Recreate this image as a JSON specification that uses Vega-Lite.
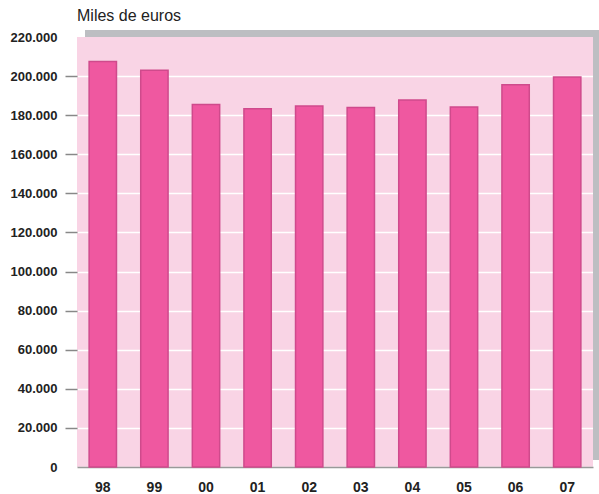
{
  "$schema": "https://vega.github.io/schema/vega-lite/v6.json",
  "width": 516,
  "height": 430,
  "autosize": {"type": "none"},
  "padding": {"left": 77, "top": 37, "right": 6, "bottom": 27},
  "background": "white",
  "config": {
    "view": {"fill": "#f9d4e5", "stroke": null},
    "font": "Liberation Sans",
    "axisY": {
      "title": null,
      "labelExpr": "replace(format(datum.value, ','), ',', '.')",
      "labelOverlap": false,
      "domain": false,
      "tickSize": 12,
      "tickWidth": 1.5,
      "tickColor": {"condition": {"test": "datum.value == 0 || datum.value == 220000", "value": "transparent"}, "value": "#888888"},
      "labelPadding": 8,
      "labelFont": "Liberation Sans",
      "labelFontSize": 13,
      "labelFontWeight": "bold",
      "labelColor": "#222222",
      "grid": true,
      "gridColor": {"condition": {"test": "datum.value == 220000", "value": "transparent"}, "value": "#ffffff"},
      "gridWidth": 1.5,
      "gridOpacity": 1
    }
  },
  "title": {
    "text": "Miles de euros",
    "anchor": "start",
    "frame": "group",
    "fontSize": 16,
    "fontWeight": "normal",
    "font": "Liberation Sans",
    "color": "#222222",
    "offset": 6
  },
  "data": {
    "values": [
      {"año": "98", "valor": 207500},
      {"año": "99", "valor": 203000},
      {"año": "00", "valor": 185500},
      {"año": "01", "valor": 183300},
      {"año": "02", "valor": 184700},
      {"año": "03", "valor": 183900},
      {"año": "04", "valor": 187800},
      {"año": "05", "valor": 184200},
      {"año": "06", "valor": 195600},
      {"año": "07", "valor": 199500}
    ]
  },
  "layer": [
    {
      "mark": {"type": "bar", "fill": "#ef58a0", "stroke": "#cf4a8c", "strokeWidth": 1.5},
      "encoding": {
        "x": {
          "field": "año",
          "type": "nominal",
          "sort": null,
          "scale": {"paddingInner": 0.47, "paddingOuter": 0.235},
          "axis": {
            "title": null,
            "labelAngle": 0,
            "ticks": false,
            "labelPadding": 13,
            "labelFont": "Liberation Sans",
            "labelFontSize": 14,
            "labelFontWeight": "bold",
            "labelColor": "#222222",
            "labelOverlap": false,
            "domainColor": "#999999",
            "domainWidth": 1.5,
            "grid": false
          }
        },
        "y": {
          "field": "valor",
          "type": "quantitative",
          "title": null,
          "scale": {"domain": [0, 220000], "nice": false},
          "axis": {
            "values": [0, 20000, 40000, 60000, 80000, 100000, 120000, 140000, 160000, 180000, 200000, 220000],
            "tickCount": 20,
            "labelOverlap": false
          }
        }
      }
    },
    {
      "mark": {"type": "rect", "color": "#bdbec2", "xOffset": 8, "x2Offset": 6, "yOffset": -7, "y2Offset": 0},
      "encoding": {
        "x": {"value": 0},
        "x2": {"value": "width"},
        "y": {"datum": 220000, "type": "quantitative"},
        "y2": {"datum": 220000}
      }
    },
    {
      "mark": {"type": "rect", "color": "#bdbec2", "x2Offset": 6, "yOffset": -7, "y2Offset": -7},
      "encoding": {
        "x": {"value": "width"},
        "x2": {"value": "width"},
        "y": {"datum": 220000, "type": "quantitative"},
        "y2": {"datum": 0}
      }
    }
  ]
}
